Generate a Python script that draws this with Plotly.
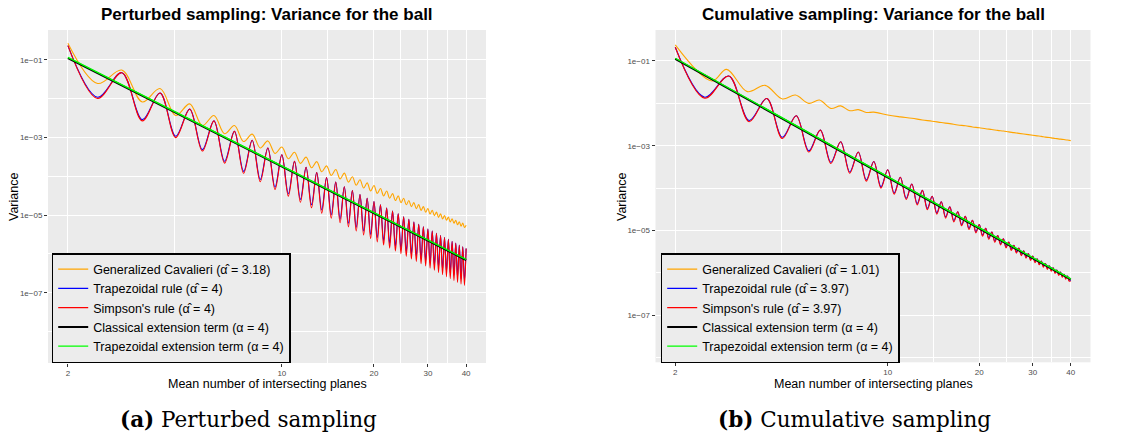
import plotly.graph_objects as go

# ---------------- data ----------------
# extrema positions (mean number of intersecting planes): start, then trough/peak alternating
n_half = [2, 2.5, 3, 3.5, 4, 4.5, 5, 5.5, 6, 6.5, 7, 7.5, 8, 8.5, 9, 9.5, 10, 10.5, 11, 11.5,
          12, 12.5, 13, 13.5, 14, 14.5, 15, 15.5, 16, 16.5, 17, 17.5, 18, 18.5, 19, 19.5,
          20, 20.5, 21, 21.5, 22, 22.5, 23, 23.5, 24, 24.5, 25, 25.5, 26, 26.5, 27, 27.5,
          28, 28.5, 29, 29.5, 30, 30.5, 31, 31.5, 32, 32.5, 33, 33.5, 34, 34.5, 35, 35.5,
          36, 36.5, 37, 37.5, 38, 38.5, 39, 39.5, 40]

# Perturbed sampling (left panel)
pert_cavalieri = [0.27, 2.48e-2, 5.5e-2, 8.3e-3, 1.84e-2, 3.7e-3, 7.4e-3, 2.04e-3, 3.7e-3, 1.26e-3,
                  2.04e-3, 7.9e-4, 1.23e-3, 5.4e-4, 8.2e-4, 3.9e-4, 5.7e-4, 2.86e-4, 4.19e-4, 2.16e-4,
                  3.13e-4, 1.67e-4, 2.40e-4, 1.32e-4, 1.87e-4, 1.05e-4, 1.50e-4, 8.6e-5, 1.21e-4, 7.1e-5,
                  9.8e-5, 5.9e-5, 8.2e-5, 5.0e-5, 6.8e-5, 4.2e-5, 5.8e-5, 3.64e-5, 4.88e-5, 3.13e-5,
                  4.2e-5, 2.74e-5, 3.6e-5, 2.38e-5, 3.14e-5, 2.11e-5, 2.73e-5, 1.85e-5, 2.40e-5, 1.66e-5,
                  2.11e-5, 1.47e-5, 1.87e-5, 1.33e-5, 1.66e-5, 1.19e-5, 1.49e-5, 1.07e-5, 1.34e-5, 9.75e-6,
                  1.20e-5, 8.8e-6, 1.08e-5, 8.0e-6, 9.8e-6, 7.4e-6, 8.9e-6, 6.7e-6, 8.1e-6, 6.2e-6,
                  7.4e-6, 5.65e-6, 6.8e-6, 5.2e-6, 6.3e-6, 4.8e-6, 5.5e-6]
pert_trapezoidal = [0.235, 1.1e-2, 4.7e-2, 2.9e-3, 1.41e-2, 1.08e-3, 5.4e-3, 4.9e-4, 2.7e-3, 2.45e-4,
                    1.45e-3, 1.35e-4, 8.5e-4, 8.3e-5, 5.4e-4, 5.3e-5, 3.6e-4, 3.6e-5, 2.44e-4, 2.55e-5,
                    1.72e-4, 1.85e-5, 1.25e-4, 1.37e-5, 9.3e-5, 1.03e-5, 7.1e-5, 7.9e-6, 5.4e-5, 6.2e-6,
                    4.3e-5, 4.9e-6, 3.4e-5, 3.95e-6, 2.74e-5, 3.2e-6, 2.23e-5, 2.65e-6, 1.84e-5, 2.2e-6,
                    1.52e-5, 1.85e-6, 1.28e-5, 1.57e-6, 1.08e-5, 1.34e-6, 9.1e-6, 1.15e-6, 7.8e-6, 9.9e-7,
                    6.7e-6, 8.6e-7, 5.8e-6, 7.5e-7, 5.0e-6, 6.6e-7, 4.4e-6, 5.8e-7, 3.9e-6, 5.1e-7,
                    3.4e-6, 4.5e-7, 3.0e-6, 4.0e-7, 2.67e-6, 3.55e-7, 2.38e-6, 3.2e-7, 2.13e-6, 2.85e-7,
                    1.90e-6, 2.55e-7, 1.71e-6, 2.3e-7, 1.54e-6, 2.1e-7, 1.39e-6]
pert_simpson = [0.235, 1.02e-2, 4.7e-2, 2.7e-3, 1.41e-2, 1.0e-3, 5.4e-3, 4.5e-4, 2.7e-3, 2.2e-4,
                1.45e-3, 1.2e-4, 8.5e-4, 7.3e-5, 5.4e-4, 4.6e-5, 3.6e-4, 3.1e-5, 2.44e-4, 2.15e-5,
                1.72e-4, 1.55e-5, 1.25e-4, 1.13e-5, 9.3e-5, 8.4e-6, 7.1e-5, 6.4e-6, 5.4e-5, 5.0e-6,
                4.3e-5, 3.9e-6, 3.4e-5, 3.1e-6, 2.74e-5, 2.5e-6, 2.23e-5, 2.05e-6, 1.84e-5, 1.7e-6,
                1.52e-5, 1.42e-6, 1.28e-5, 1.2e-6, 1.08e-5, 1.02e-6, 9.1e-6, 8.7e-7, 7.8e-6, 7.4e-7,
                6.7e-6, 6.4e-7, 5.8e-6, 5.6e-7, 5.0e-6, 4.9e-7, 4.4e-6, 4.3e-7, 3.9e-6, 3.8e-7,
                3.4e-6, 3.35e-7, 3.0e-6, 2.95e-7, 2.67e-6, 2.6e-7, 2.38e-6, 2.32e-7, 2.13e-6, 2.07e-7,
                1.90e-6, 1.86e-7, 1.71e-6, 1.68e-7, 1.54e-6, 1.55e-7, 1.39e-6]

# Cumulative sampling (right panel)
cum_cav_n = [2, 2.64, 2.95, 3.45, 3.95, 4.5, 4.97, 5.5, 5.96, 6.5, 7, 7.5, 8, 8.5, 9,
             10, 11, 12, 13, 14, 15, 16, 17, 18, 19, 20, 21, 22, 23, 24, 25, 26, 27, 28, 29,
             30, 31, 32, 33, 34, 35, 36, 37, 38, 39, 40]
cum_cavalieri = [0.239, 3.37e-2, 6.35e-2, 1.89e-2, 2.66e-2, 1.27e-2, 1.57e-2, 1.0e-2, 1.2e-2, 7.6e-3,
                 8.7e-3, 6.7e-3, 7.1e-3, 6.1e-3, 6.2e-3,
                 5.3e-3, 4.8e-3, 4.45e-3, 4.05e-3, 3.8e-3, 3.52e-3, 3.32e-3, 3.1e-3, 2.96e-3, 2.78e-3,
                 2.66e-3, 2.52e-3, 2.42e-3, 2.30e-3, 2.22e-3, 2.12e-3, 2.04e-3, 1.96e-3, 1.89e-3, 1.83e-3,
                 1.77e-3, 1.71e-3, 1.66e-3, 1.60e-3, 1.56e-3, 1.51e-3, 1.47e-3, 1.43e-3, 1.40e-3, 1.36e-3,
                 1.32e-3]
cum_trapezoidal = [0.21, 1.40e-2, 4.42e-2, 3.95e-3, 1.30e-2, 1.58e-3, 5.09e-3, 7.6e-4, 2.34e-3, 4.08e-4,
                   1.24e-3, 2.41e-4, 7.10e-4, 1.56e-4, 4.23e-4, 1.07e-4, 2.71e-4, 7.7e-5, 1.81e-4, 5.75e-5,
                   1.25e-4, 4.31e-5, 8.85e-5, 3.32e-5, 6.44e-5, 2.61e-5, 4.78e-5, 2.10e-5, 3.61e-5, 1.71e-5,
                   2.76e-5, 1.38e-5, 2.15e-5, 1.13e-5, 1.73e-5, 9.4e-6, 1.38e-5, 7.86e-6, 1.12e-5, 6.64e-6,
                   9.18e-6, 5.67e-6, 7.60e-6, 4.88e-6, 6.34e-6, 4.17e-6, 5.32e-6, 3.61e-6, 4.50e-6, 3.12e-6,
                   3.86e-6, 2.73e-6, 3.30e-6, 2.39e-6, 2.84e-6, 2.11e-6, 2.48e-6, 1.86e-6, 2.15e-6, 1.66e-6,
                   1.90e-6, 1.46e-6, 1.66e-6, 1.29e-6, 1.47e-6, 1.17e-6, 1.31e-6, 1.04e-6, 1.17e-6, 9.3e-7,
                   1.04e-6, 8.44e-7, 9.31e-7, 7.6e-7, 8.39e-7, 6.86e-7, 6.6e-7]
cum_simpson = [0.21, 1.32e-2, 4.42e-2, 3.69e-3, 1.30e-2, 1.48e-3, 5.09e-3, 7.10e-4, 2.34e-3, 3.81e-4,
               1.24e-3, 2.25e-4, 7.10e-4, 1.46e-4, 4.23e-4, 1.00e-4, 2.71e-4, 7.21e-5, 1.81e-4, 5.37e-5,
               1.25e-4, 4.03e-5, 8.85e-5, 3.10e-5, 6.44e-5, 2.44e-5, 4.78e-5, 1.96e-5, 3.61e-5, 1.60e-5,
               2.76e-5, 1.29e-5, 2.15e-5, 1.06e-5, 1.73e-5, 8.77e-6, 1.38e-5, 7.35e-6, 1.12e-5, 6.21e-6,
               9.18e-6, 5.30e-6, 7.60e-6, 4.56e-6, 6.34e-6, 3.90e-6, 5.32e-6, 3.37e-6, 4.50e-6, 2.92e-6,
               3.86e-6, 2.55e-6, 3.30e-6, 2.23e-6, 2.84e-6, 1.97e-6, 2.48e-6, 1.74e-6, 2.15e-6, 1.55e-6,
               1.90e-6, 1.36e-6, 1.66e-6, 1.21e-6, 1.47e-6, 1.09e-6, 1.31e-6, 9.70e-7, 1.17e-6, 8.69e-7,
               1.04e-6, 7.89e-7, 9.31e-7, 7.10e-7, 8.39e-7, 6.41e-7, 6.4e-7]

# extension terms (straight power laws, alpha = 4): endpoints
ext_n = [2, 40]
classical_ext = [0.112, 7.0e-7]
trapezoidal_ext = [0.116, 7.25e-7]

left_labels = ["Generalized Cavalieri (α\u0302 = 3.18)", "Trapezoidal rule (α\u0302 = 4)",
               "Simpson's rule (α\u0302 = 4)", "Classical extension term (α = 4)",
               "Trapezoidal extension term (α = 4)"]
right_labels = ["Generalized Cavalieri (α\u0302 = 1.01)", "Trapezoidal rule (α\u0302 = 3.97)",
                "Simpson's rule (α\u0302 = 3.97)", "Classical extension term (α = 4)",
                "Trapezoidal extension term (α = 4)"]
x_ticks = [2, 10, 20, 30, 40]
x_minor = [4.472, 14.142, 24.495, 34.641]
y_ticks = [1e-1, 1e-3, 1e-5, 1e-7]
y_ticktext = ["1e\u221201", "1e\u221203", "1e\u221205", "1e\u221207"]
y_minor = [1e-2, 1e-4, 1e-6, 1e-8]

# ---------------- figure ----------------
FONT = "Liberation Sans, Arial, Helvetica, sans-serif"
colors = ["#FFA500", "#0000FF", "#FF0000", "#000000", "#00FF00"]
widths = [1.1, 1.1, 1.1, 2.0, 1.4]

fig = go.Figure()

def add_panel(series, labels, xa, ya, leg):
    for (xs, ys), lab, col, w in zip(series, labels, colors, widths):
        fig.add_trace(go.Scatter(
            x=xs, y=ys, mode="lines", name=lab,
            line=dict(color=col, width=w, shape="spline", smoothing=1.0),
            xaxis=xa, yaxis=ya, legend=leg))

add_panel([(n_half, pert_cavalieri), (n_half, pert_trapezoidal), (n_half, pert_simpson),
           (ext_n, classical_ext), (ext_n, trapezoidal_ext)], left_labels, "x", "y", "legend")
add_panel([(cum_cav_n, cum_cavalieri), (n_half, cum_trapezoidal), (n_half, cum_simpson),
           (ext_n, classical_ext), (ext_n, trapezoidal_ext)], right_labels, "x2", "y2", "legend2")

def xaxis(domain, anchor):
    return dict(type="log", domain=domain, range=[0.236, 1.667], anchor=anchor,
                tickmode="array", tickvals=x_ticks, ticktext=[str(v) for v in x_ticks],
                showgrid=True, gridcolor="white", gridwidth=1.1,
                minor=dict(tickmode="array", tickvals=x_minor, showgrid=True,
                           gridcolor="white", gridwidth=0.55, ticks=""),
                ticks="outside", ticklen=2.5, tickwidth=1, tickcolor="#333333",
                tickfont=dict(family=FONT, size=8, color="#4d4d4d"),
                zeroline=False, showline=False, automargin=False)

def yaxis(domain, rng, anchor):
    return dict(type="log", domain=domain, range=rng, anchor=anchor,
                tickmode="array", tickvals=y_ticks, ticktext=y_ticktext,
                showgrid=True, gridcolor="white", gridwidth=1.1,
                minor=dict(tickmode="array", tickvals=y_minor, showgrid=True,
                           gridcolor="white", gridwidth=0.55, ticks=""),
                ticks="outside", ticklen=3, tickwidth=1, tickcolor="#333333",
                tickfont=dict(family=FONT, size=8, color="#4d4d4d"),
                zeroline=False, showline=False, automargin=False)

W, H = 1130, 435
def px(x):
    return x / W
def py(y):
    return 1 - y / H

legend_style = dict(xanchor="left", yanchor="bottom", bgcolor="#ececec",
                    bordercolor="black", borderwidth=1.5,
                    font=dict(family=FONT, size=12.5, color="black"),
                    itemwidth=30, tracegroupgap=0)

fig.update_layout(
    width=W, height=H, autosize=False,
    margin=dict(l=0, r=0, t=0, b=0, pad=0),
    paper_bgcolor="white", plot_bgcolor="#ebebeb",
    font=dict(family=FONT, color="black"),
    xaxis=xaxis([px(48), px(486)], "y"),
    yaxis=yaxis([py(363), py(30)], [-8.81, -0.227], "x"),
    xaxis2=xaxis([px(655.5), px(1090.5)], "y2"),
    yaxis2=yaxis([py(362.3), py(30)], [-8.11, -0.269], "x2"),
    legend=dict(x=px(51.7), y=py(363), **legend_style),
    legend2=dict(x=px(660.7), y=py(363), **legend_style),
    showlegend=True,
)

ann = []
def text(x, y, s, size, angle=0, family=FONT, bold=False):
    ann.append(dict(x=px(x), y=py(y), xref="paper", yref="paper", text=(f"<b>{s}</b>" if bold else s),
                    showarrow=False, xanchor="center", yanchor="middle", textangle=angle,
                    font=dict(family=family, size=size, color="black")))

text(267, 14, "Perturbed sampling: Variance for the ball", 17, bold=True)
text(873, 14, "Cumulative sampling: Variance for the ball", 17, bold=True)
text(267, 384, "Mean number of intersecting planes", 12.5)
text(873, 384, "Mean number of intersecting planes", 12.5)
text(14, 197, "Variance", 12.5, angle=-90)
text(622, 197, "Variance", 12.5, angle=-90)
SERIF = "DejaVu Serif, Liberation Serif, serif"
text(248, 419, "<b>(a)</b> Perturbed sampling", 21.5, family=SERIF)
text(854, 419, "<b>(b)</b> Cumulative sampling", 21.5, family=SERIF)
fig.update_layout(annotations=ann)

fig.write_html("out.html", config={"displayModeBar": False},
               post_script="document.body.style.margin='0px';document.body.style.overflow='hidden';")
